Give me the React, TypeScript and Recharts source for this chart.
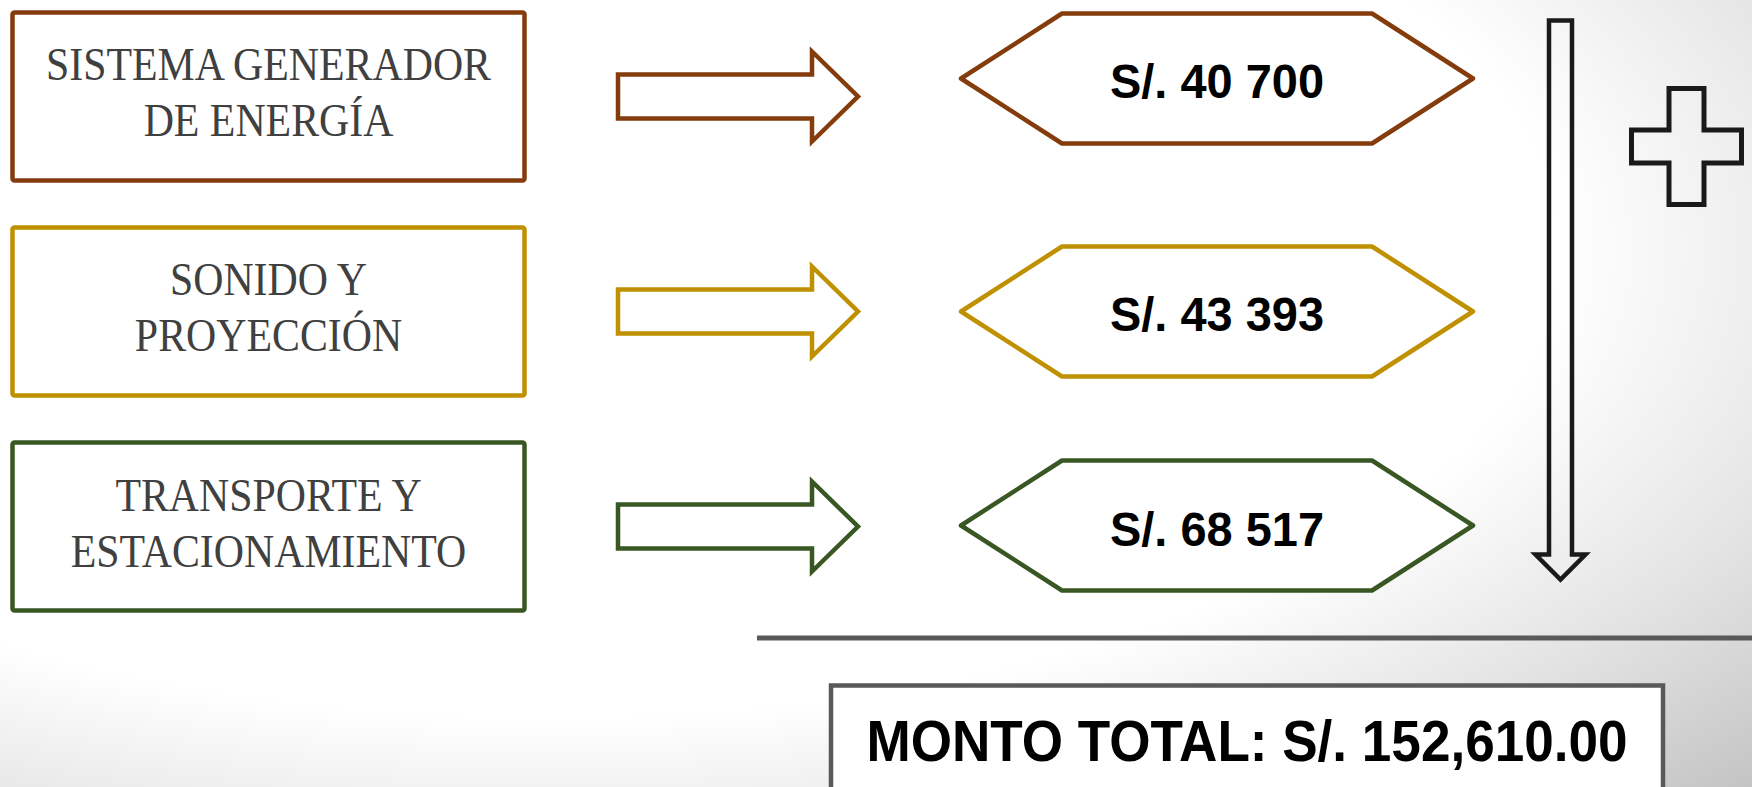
import React from 'react';
import { ComposedChart, Scatter, XAxis, YAxis, ReferenceLine } from 'recharts';

// rubros del presupuesto
const categories = [
    ['SISTEMA GENERADOR', 'DE ENERGÍA'],
    ['SONIDO Y', 'PROYECCIÓN'],
    ['TRANSPORTE Y', 'ESTACIONAMIENTO'],
];
const amounts = [40700, 43393, 68517];
const colors = ['#843C0C', '#BF9000', '#385723'];
const totalPrefix = 'MONTO TOTAL: ';

const W = 1752;
const H = 787;
// rows: 0..2 budget items, 3 the total
const ROW_DOMAIN: [number, number] = [-0.4488, 3.2116];

// column centres (px along the x axis)
const COL = { label: 268.5, arrow: 738, amount: 1217, down: 1560.5, plus: 1686.5, total: 1247 };
const amountShift = [-18, 0, -1];

const fmtAmount = (v: number) => `S/. ${Math.floor(v / 1000)} ${String(v % 1000).padStart(3, '0')}`;
const total = amounts.reduce((a, b) => a + b, 0);
const fmtTotal = (v: number) =>
    `S/. ${v.toLocaleString('en-US', { minimumFractionDigits: 2, maximumFractionDigits: 2 })}`;

const labelData = categories.map((lines, i) => ({ x: COL.label, row: i, lines, color: colors[i] }));
const arrowData = categories.map((_, i) => ({ x: COL.arrow, row: i, color: colors[i] }));
const amountData = amounts.map((v, i) => ({ x: COL.amount, row: i, value: v, color: colors[i] }));
const sumData = [{ x: COL.down, row: 1 }];
const plusData = [{ x: COL.plus, row: 0.2326 }];
const totalData = [{ x: COL.total, row: 3, value: total }];

const LabelBox = (p: any) => {
    const { cx, cy, payload } = p;
    return (
        <g>
            <rect x={cx - 256} y={cy - 84} width={512} height={168} rx={2} fill="#fff" stroke={payload.color} strokeWidth={4.5} />
            {payload.lines.map((t: string, k: number) => (
                <text
                    key={k}
                    transform={`translate(${cx} ${cy - 16 + k * 56}) scale(0.89 1)`}
                    textAnchor="middle"
                    fontFamily="'Liberation Serif', serif"
                    fontSize={47}
                    fill="#404040"
                >
                    {t}
                </text>
            ))}
        </g>
    );
};

const BlockArrow = (p: any) => {
    const { cx, cy, payload } = p;
    const x0 = cx - 120, hb = cx + 74, tip = cx + 120;
    const d = `M${x0},${cy - 22} L${hb},${cy - 22} L${hb},${cy - 45} L${tip},${cy} L${hb},${cy + 45} L${hb},${cy + 22} L${x0},${cy + 22} Z`;
    return <path d={d} fill="#fff" stroke={payload.color} strokeWidth={4.5} strokeLinejoin="miter" />;
};

const Hexagon = (p: any) => {
    const { cx, payload, index } = p;
    const cy = p.cy + amountShift[index];
    const hw = 256, inner = 155, hh = 65;
    const d = `M${cx - hw},${cy} L${cx - inner},${cy - hh} L${cx + inner},${cy - hh} L${cx + hw},${cy} L${cx + inner},${cy + hh} L${cx - inner},${cy + hh} Z`;
    return (
        <g>
            <path d={d} fill="#fff" stroke={payload.color} strokeWidth={4.5} strokeLinejoin="round" />
            <text x={cx} y={cy + 20} textAnchor="middle" fontFamily="'Liberation Sans', Arial, sans-serif" fontWeight="bold" fontSize={48} fill="#000" textLength={214} lengthAdjust="spacingAndGlyphs">
                {fmtAmount(payload.value)}
            </text>
        </g>
    );
};

const DownArrow = (p: any) => {
    const { cx, cy } = p;
    const top = cy - 291, hb = cy + 243, tip = cy + 268;
    const d = `M${cx - 11.5},${top} L${cx + 11.5},${top} L${cx + 11.5},${hb} L${cx + 25},${hb} L${cx},${tip} L${cx - 25},${hb} L${cx - 11.5},${hb} Z`;
    return <path d={d} fill="none" stroke="#1a1a1a" strokeWidth={4.5} />;
};

const Plus = (p: any) => {
    const { cx, cy } = p;
    const a = 17.5, b = 16.5, w = 55, h = 58;
    const d = `M${cx - a},${cy - h} L${cx + a},${cy - h} L${cx + a},${cy - b} L${cx + w},${cy - b} L${cx + w},${cy + b} L${cx + a},${cy + b} L${cx + a},${cy + h} L${cx - a},${cy + h} L${cx - a},${cy + b} L${cx - w},${cy + b} L${cx - w},${cy - b} L${cx - a},${cy - b} Z`;
    return <path d={d} fill="none" stroke="#1a1a1a" strokeWidth={5} />;
};

const TotalBox = (p: any) => {
    const { cx, cy, payload } = p;
    return (
        <g>
            <rect x={cx - 416} y={cy - 56} width={832} height={120} fill="#fff" stroke="#595959" strokeWidth={4.5} />
            <text x={cx} y={cy + 19} textAnchor="middle" fontFamily="'Liberation Sans', Arial, sans-serif" fontWeight="bold" fontSize={57} fill="#000" textLength={761} lengthAdjust="spacingAndGlyphs">
                {totalPrefix + fmtTotal(payload.value)}
            </text>
        </g>
    );
};

export default function App() {
    return (
        <div
            style={{
                position: 'absolute',
                left: 0,
                top: 0,
                width: W,
                height: H,
                overflow: 'hidden',
                background:
                    'radial-gradient(1400px 650px at 550px 250px, #ffffff 0%, #ffffff 72%, #e4e4e4 95%, #bcbcbc 125%)',
            }}
        >
            <ComposedChart width={W} height={H} margin={{ top: 0, right: 0, bottom: 0, left: 0 }}>
                <XAxis type="number" dataKey="x" domain={[0, W]} hide allowDataOverflow />
                <YAxis type="number" dataKey="row" domain={ROW_DOMAIN} reversed hide allowDataOverflow />
                <ReferenceLine
                    segment={[{ x: 757, y: 2.5186 }, { x: W, y: 2.5186 }]}
                    stroke="#595959"
                    strokeWidth={5}
                    ifOverflow="visible"
                />
                <Scatter data={labelData} shape={LabelBox} isAnimationActive={false} />
                <Scatter data={arrowData} shape={BlockArrow} isAnimationActive={false} />
                <Scatter data={amountData} shape={Hexagon} isAnimationActive={false} />
                <Scatter data={sumData} shape={DownArrow} isAnimationActive={false} />
                <Scatter data={plusData} shape={Plus} isAnimationActive={false} />
                <Scatter data={totalData} shape={TotalBox} isAnimationActive={false} />
            </ComposedChart>
        </div>
    );
}
